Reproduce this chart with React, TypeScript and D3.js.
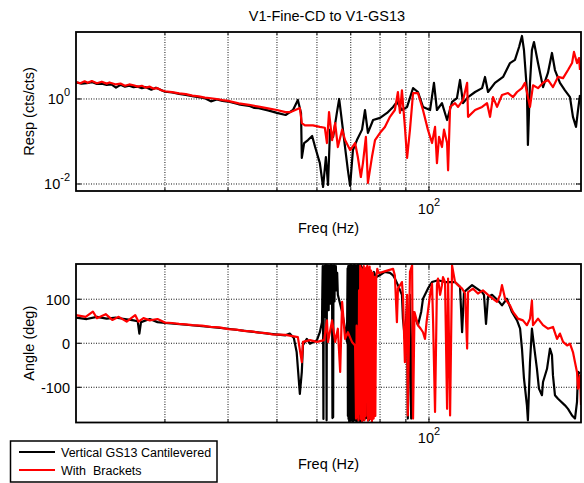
import React, { useEffect, useRef } from 'react';
import * as d3 from 'd3';

const W = 584;
const H = 483;
const FONT = '"Liberation Sans", Arial, sans-serif';

// axis setup
const freqDomain: [number, number] = [20, 200];
const magDomain: [number, number] = [Math.pow(10, -2.165), Math.pow(10, 1.576)];
const phaseDomain: [number, number] = [-180, 180];
const freqMinor = [30, 40, 50, 60, 70, 80, 90];
const freqMajor = [100];
const magTicks = [0.01, 1];
const magTickLabels = [['10', '-2'], ['10', '0']];
const phaseTicks = [-100, 0, 100];
const phaseTickLabels = ['-100', '0', '100'];

const legendLabels = ['Vertical GS13 Cantilevered', 'With  Brackets'];
const seriesColors = ['#000000', '#ff0000'];

// magnitude, cantilevered GS13 (freq Hz, cts/cts)
const magBlack: [number, number][] = [
  [20, 2.45], [20.5, 2.3], [21, 2.35], [21.5, 2.5], [22, 2.25], [22.5, 2.3], [23, 2.15], [23.5, 2.2], [24, 1.85],
  [24.5, 2.15], [25, 1.95], [25.5, 2.05], [26, 1.9], [26.5, 1.95], [27, 1.8], [27.5, 1.9], [28.2, 1.65],
  [28.8, 1.85], [30, 1.48], [31, 1.42], [32, 1.32], [33, 1.25], [34, 1.17], [35, 1.1], [36, 1.04],
  [37, 0.88], [38, 0.97], [39, 0.9], [40, 0.87], [42, 0.75], [44, 0.69], [45, 0.62], [46, 0.61], [48, 0.54],
  [50, 0.47], [52, 0.42],
  [53.8, 0.55], [55.0, 0.95], [55.8, 0.47], [56.0, 0.041], [56.6, 0.092], [57.6, 0.108], [58.7, 0.135],
  [59.5, 0.074], [60.8, 0.031], [61.7, 0.0085], [62.5, 0.043], [63.1, 0.0095], [63.7, 0.19], [64.6, 0.128],
  [65.7, 0.47], [66.4, 1.0], [67.3, 0.27], [68.2, 0.074], [69.1, 0.021], [69.8, 0.009], [70.7, 0.063],
  [72.0, 0.108], [73.7, 0.19], [74.7, 0.55], [75.7, 0.16], [77.5, 0.32], [80, 0.36], [82.6, 0.47],
  [84.9, 0.65], [86.4, 0.85], [88.4, 0.55], [90.5, 0.65], [93.0, 1.8], [95.1, 1.46], [97.3, 0.65],
  [100.5, 0.55], [102.3, 2.4], [103.7, 0.55], [106.1, 0.8], [108.6, 0.32], [111.1, 0.85], [113.6, 1.05],
  [115.2, 2.8], [116.8, 0.8], [119.5, 1.11], [123.4, 1.46], [127.4, 1.8], [129.1, 3.3], [130.9, 1.46],
  [135.1, 2.4], [140.2, 3.3], [144.7, 7.0], [148.0, 8.3], [150.8, 16.7], [152.8, 30.4], [154.2, 14.2],
  [156.3, 1.6], [157.0, 0.083], [158.5, 2.4], [159.9, 14.2], [161.4, 21.9], [164.4, 7.0], [168.2, 1.9],
  [172.0, 4.1], [175.2, 12.1], [177.6, 4.8], [181.7, 2.4], [185.9, 1.6], [190.2, 1.11], [192.8, 0.38],
  [195.5, 0.22], [197.3, 0.55], [199.1, 1.24],
];

// magnitude, with brackets
const magRed: [number, number][] = [
  [20, 2.5], [20.4, 2.35], [20.8, 2.6], [21.1, 2.4], [21.5, 2.65], [22.0, 2.35], [22.5, 2.55], [23.0, 2.3],
  [23.3, 2.45], [24, 2.2], [24.5, 2.3], [25, 2.05], [25.5, 2.2], [26, 2.1], [26.5, 1.95], [27, 2.05],
  [27.5, 1.85], [28, 1.95], [28.5, 1.75], [29, 1.8], [29.5, 1.6], [30, 1.52], [31, 1.45], [32, 1.36],
  [33, 1.3], [34, 1.2], [35, 1.15], [36, 1.08], [37, 1.04], [38, 1.0], [39, 0.94], [40, 0.9],
  [42, 0.79], [44, 0.73], [46, 0.66], [48, 0.6], [50, 0.55], [52, 0.49], [53.1, 0.49], [55.5, 0.61],
  [56.0, 0.27], [56.8, 0.24], [58.9, 0.24], [60.8, 0.22], [62.2, 0.21], [62.8, 0.092], [63.4, 0.49],
  [64.3, 0.108], [65.2, 0.27], [66.0, 0.074], [67.3, 0.19], [68.2, 0.108], [69.8, 0.063], [71.4, 0.092],
  [72.3, 0.043], [73.3, 0.0146], [74.0, 0.031], [75.0, 0.128], [75.7, 0.0106], [77.1, 0.043], [78.2, 0.108],
  [80, 0.16], [81.8, 0.22], [83.7, 0.38], [85.6, 0.55], [86.8, 1.46], [87.6, 0.47], [88.4, 1.6], [89.6, 0.22],
  [90.5, 0.041], [91.7, 0.19], [93.0, 1.38], [95.1, 1.38], [97.3, 0.55], [99.5, 0.19], [101.4, 0.092],
  [102.8, 0.22], [103.7, 0.031], [104.7, 0.128], [106.1, 0.074], [107.1, 0.19], [108.6, 0.092], [109.1, 0.021],
  [110.1, 0.65], [112.6, 0.8], [114.2, 0.65], [116.8, 0.95], [119.0, 2.4], [119.5, 0.38], [123.4, 0.55],
  [127.4, 0.65], [130.3, 0.8], [132.1, 0.38], [133.9, 1.11], [136.4, 0.65], [139.5, 1.24], [143.4, 1.38],
  [146.7, 1.11], [149.4, 1.46], [152.8, 1.8], [154.9, 2.4], [158.5, 0.65], [160.7, 2.1], [164.4, 1.8],
  [168.2, 2.4], [172.0, 2.8], [176.0, 1.9], [180.1, 3.3], [184.3, 3.1], [188.5, 4.8], [192.0, 7.0],
  [193.7, 12.8], [196.4, 7.0], [198.2, 9.2], [199.1, 4.8],
];

// phase, cantilevered GS13 (freq Hz, deg)
const phaseBlack: [number, number][] = [
  [20, 58], [21, 55], [22, 60], [23, 56], [24, 58], [25, 55], [26, 52], [26.5, 50], [26.7, 22], [26.9, 48],
  [28, 55], [29, 48], [30, 46], [33, 42], [36, 38], [40, 33], [44, 27], [48, 22], [52, 18], [53, 22], [54, 12],
  [54.7, -20], [55.5, -115], [56, -65], [56.3, -4], [57.3, 10], [58.1, -1], [60, 7], [60.8, 25], [61.4, 48],
  [61.5, 120], [61.6, 175], [61.7, 60], [61.8, -172], [61.9, 168], [62.0, 70], [62.1, 176], [62.2, 95],
  [62.3, 172], [62.4, 60], [62.5, 178], [62.6, 105], [62.7, -175], [62.8, 174], [62.9, 85], [63.0, 177],
  [63.1, 110], [63.2, 168], [63.3, 75], [63.4, 176], [63.5, 120], [63.6, 172], [63.7, 90], [63.8, 175],
  [63.9, 90], [64.0, 178], [64.1, 100], [64.2, 170], [64.3, 80], [64.4, -170], [64.5, 176], [64.6, -168],
  [64.7, 172], [64.8, 110], [64.9, 177], [65.0, 95], [65.1, 170], [65.2, 130], [65.4, 175], [65.6, 120],
  [65.8, 160], [66.0, 110], [67.3, 71], [68.2, 33], [68.8, 3],
  [69.0, 170], [69.1, -165], [69.2, 175], [69.3, -172], [69.4, 168], [69.5, -178], [69.6, 176], [69.7, -170],
  [69.8, 172], [69.9, -175], [70.0, 178], [70.1, -168], [70.2, 170], [70.3, -176], [70.4, 175], [70.5, -172],
  [70.6, 168], [70.7, -178], [70.8, 176], [70.9, -170], [71.0, 172], [71.1, -175], [71.2, 178], [71.3, -168],
  [71.4, 170], [71.5, -176], [71.6, 175], [71.7, -172], [71.8, 168], [71.9, -178], [72.0, 176], [72.1, -170],
  [72.2, 172], [72.3, -175], [72.4, 178], [72.5, -168], [72.6, 170], [72.7, -176], [72.8, 175], [72.9, -172],
  [73.0, 168], [73.2, -178], [73.4, 176], [73.6, -170], [73.8, 172], [74.0, -175], [74.3, 165], [74.6, -172],
  [74.9, 160], [75.2, -170], [75.6, 165], [76.0, -175], [76.4, 160], [77.2, 150], [77.8, 162], [78.5, 150],
  [80, 155], [81.8, 162], [83.7, 160], [84.9, 154], [85.6, 147], [86.8, 132],
  [88.4, 110], [88.8, 56], [89.6, 10], [90.5, 87], [90.8, -171], [91.7, 110], [92.2, -171], [93.0, 71],
  [95.1, 41], [96.5, 71], [97.3, 101], [99.5, 124], [100.5, 132], [101.4, 139], [104.2, 143], [107.6, 139],
  [112.6, 139], [115.2, 128], [116.3, 25], [117.3, 116], [119.5, 124], [121.7, 132], [124.5, 124], [127.4, 116],
  [128.5, 110], [129.7, 44], [130.9, 105], [133.3, 110], [137.0, 97], [139.5, 86], [142.7, 101], [146.0, 71],
  [149.4, 52], [151.5, 33], [152.8, -12], [154.2, -80], [156.3, -141], [157.0, -175], [158.5, -43], [159.9, 33],
  [161.4, -5], [163.6, -58], [165.1, -103], [167.4, -118], [168.2, -88], [171.3, -58], [173.6, -12], [175.2, -27],
  [176.0, -73], [177.6, -118], [180.1, -126], [185.9, -141], [188.5, -149], [192.0, -164], [194.6, -171],
  [196.4, -133], [197.3, -65], [199.1, -69],
];

// phase, with brackets
const phaseRed: [number, number][] = [
  [20, 64], [20.9, 60], [21.6, 72], [22.0, 57], [22.9, 66], [23.6, 53], [24.3, 60], [25.2, 49], [26.2, 64],
  [26.6, 49], [27.2, 57], [28, 52], [29, 55], [30, 47], [31, 46], [32, 44], [33, 43], [34, 41], [35.5, 40],
  [37, 37], [38.5, 36], [40, 32], [41.5, 31], [43, 28], [44.5, 27], [46, 24], [47.5, 23], [49, 20], [52, 19],
  [55, 14], [56.0, -43], [56.3, 3], [58.1, 7], [60, 3], [62, 7], [62.8, 52],
  [63.1, 3], [64.3, 52], [65.2, 3], [66.0, 33], [66.7, -65], [67.3, 94], [68.2, 10], [69.1, 25], [70.4, 3],
  [71.4, -5], [71.7, -171], [71.9, 40], [72.1, -168], [72.3, 10], [72.5, -175], [72.7, 120], [72.9, -160],
  [73.1, 177], [73.3, -172], [73.5, 170], [73.7, -178], [73.9, 165], [74.1, -170], [74.3, 175], [74.5, -175],
  [74.7, 168], [74.9, -165], [75.1, 172], [75.3, -133], [75.5, 176], [75.7, -176], [75.9, 170], [76.1, -170],
  [76.3, 174], [76.5, -172], [76.8, 165], [77.1, -178], [77.4, 160], [77.7, -171], [78.0, 150], [78.3, -165],
  [78.6, 147], [79.0, 169], [79.5, 160], [80.0, 160], [82.6, 165], [84.9, 169], [85.6, 154], [86.4, 48],
  [86.8, 124], [88.4, 139], [88.8, 110], [89.6, -43], [90.5, 110], [90.8, -164], [91.7, 162], [92.6, 177],
  [93.0, -171], [93.6, 71], [95.1, 41], [96.3, 33], [97.3, 25], [98.2, 10], [98.9, 48], [100.5, 110],
  [101.4, 135], [101.9, 48], [102.8, -156], [103.7, 132], [104.2, 147], [105.2, 110], [106.1, 132],
  [106.6, 150], [107.6, 139], [108.6, -149], [109.1, 147], [110.1, -164], [111.1, 177], [112.6, 139],
  [114.2, 132], [116.3, 124], [117.9, 113], [119.0, -12], [119.5, 116], [122.2, 124], [125.0, 113],
  [127.9, 120], [130.9, 110], [133.9, 101], [136.4, 94], [138.3, 110], [139.5, 132], [141.5, 101],
  [144.7, 86], [146.7, 71], [150.1, 56], [153.5, 52], [156.3, 41], [158.5, 56], [159.9, 97], [160.7, 41],
  [164.4, 56], [168.2, 41], [172.0, 33], [176.0, 37], [179.3, 10], [181.7, 22], [184.3, 3], [187.7, -5],
  [190.2, -1], [192.8, -20], [194.6, -43], [196.4, -66], [197.3, -103], [199.1, -73], [200, -140],
];

export default function App() {
  const svgRef = useRef<SVGSVGElement>(null);

  useEffect(() => {
    const svg = d3.select(svgRef.current);
    svg.selectAll('*').remove();
    svg.append('rect').attr('width', W).attr('height', H).attr('fill', '#fff');
    const defs = svg.append('defs');

    const x = d3.scaleLog().domain(freqDomain).range([76, 581]);

    const panel = (
      id: string,
      y: any,
      yTicks: number[],
      tickLabel: (g: any, i: number) => void,
      series: [number, number][][],
      yLabel: string,
      xLabelY: number,
      xTickY: number,
    ) => {
      const [y0, y1] = y.range();
      const x0 = 76, x1 = 581;
      const g = svg.append('g');

      defs.append('clipPath').attr('id', id)
        .append('rect').attr('x', x0).attr('y', y1).attr('width', x1 - x0).attr('height', y0 - y1);

      // grid
      const grid = g.append('g').attr('stroke', '#111').attr('stroke-width', 1).attr('stroke-dasharray', '1,1.5');
      grid.selectAll('.vx').data([...freqMinor, ...freqMajor]).enter().append('line')
        .attr('x1', (d: number) => x(d)).attr('x2', (d: number) => x(d)).attr('y1', y1).attr('y2', y0);
      grid.selectAll('.hy').data(yTicks).enter().append('line')
        .attr('y1', (d: number) => y(d)).attr('y2', (d: number) => y(d)).attr('x1', x0).attr('x2', x1);

      // ticks, inward on all sides
      const tk = g.append('g').attr('stroke', '#000').attr('stroke-width', 1);
      const xt = [...freqMinor.map((v) => [v, 3]), ...freqMajor.map((v) => [v, 5])];
      xt.forEach(([v, len]) => {
        tk.append('line').attr('x1', x(v)).attr('x2', x(v)).attr('y1', y0).attr('y2', y0 - len);
        tk.append('line').attr('x1', x(v)).attr('x2', x(v)).attr('y1', y1).attr('y2', y1 + len);
      });
      yTicks.forEach((v) => {
        tk.append('line').attr('x1', x0).attr('x2', x0 + 5).attr('y1', y(v)).attr('y2', y(v));
        tk.append('line').attr('x1', x1).attr('x2', x1 - 5).attr('y1', y(v)).attr('y2', y(v));
      });

      // data
      const line = d3.line<[number, number]>().x((d) => x(d[0])).y((d) => y(d[1]));
      const lg = g.append('g').attr('clip-path', `url(#${id})`);
      series.forEach((s, i) => {
        lg.append('path').attr('d', line(s)).attr('fill', 'none')
          .attr('stroke', seriesColors[i]).attr('stroke-width', 2.2).attr('stroke-linejoin', 'round');
      });

      // box
      g.append('rect').attr('x', x0).attr('y', y1).attr('width', x1 - x0).attr('height', y0 - y1)
        .attr('fill', 'none').attr('stroke', '#000').attr('stroke-width', 1.8);

      // y tick labels
      yTicks.forEach((v, i) => {
        const t = g.append('text').attr('x', 70).attr('y', y(v) + 5.5)
          .attr('text-anchor', 'end').attr('font-family', FONT).attr('font-size', 14.5);
        tickLabel(t, i);
      });

      // x tick label 10^2
      const xl = g.append('text').attr('x', x(100)).attr('y', xTickY)
        .attr('text-anchor', 'middle').attr('font-family', FONT).attr('font-size', 14.5);
      xl.append('tspan').text('10');
      xl.append('tspan').attr('dy', -8).attr('font-size', 11).text('2');

      g.append('text').attr('x', 328.5).attr('y', xLabelY).attr('text-anchor', 'middle')
        .attr('font-family', FONT).attr('font-size', 14.5).text('Freq (Hz)');

      g.append('text').attr('transform', `translate(34,${(y0 + y1) / 2}) rotate(-90)`)
        .attr('text-anchor', 'middle').attr('font-family', FONT).attr('font-size', 14.5).text(yLabel);
    };

    const yMag = d3.scaleLog().domain(magDomain).range([191, 32]);
    panel('clipMag', yMag, magTicks, (t, i) => {
      t.append('tspan').text(magTickLabels[i][0]);
      t.append('tspan').attr('dy', -8).attr('font-size', 11).text(magTickLabels[i][1]);
    }, [magBlack, magRed], 'Resp (cts/cts)', 233, 213.5);

    const yPh = d3.scaleLinear().domain(phaseDomain).range([422.5, 264]);
    panel('clipPh', yPh, phaseTicks, (t, i) => {
      t.text(phaseTickLabels[i]);
    }, [phaseBlack, phaseRed], 'Angle (deg)', 468.5, 443);

    svg.append('text').attr('x', 327).attr('y', 21).attr('text-anchor', 'middle')
      .attr('font-family', FONT).attr('font-size', 14.5).text('V1-Fine-CD to V1-GS13');

    // legend
    const lg = svg.append('g');
    lg.append('rect').attr('x', 10.5).attr('y', 441).attr('width', 206.5).attr('height', 41)
      .attr('fill', '#fff').attr('stroke', '#000').attr('stroke-width', 1.5);
    legendLabels.forEach((lab, i) => {
      const ly = 452 + i * 18;
      lg.append('line').attr('x1', 19).attr('x2', 55).attr('y1', ly).attr('y2', ly)
        .attr('stroke', seriesColors[i]).attr('stroke-width', 2.2);
      lg.append('text').attr('x', 61).attr('y', ly + 4.5).attr('font-family', FONT).attr('font-size', 12.5)
        .style('white-space', 'pre').text(lab);
    });
  }, []);

  return <svg ref={svgRef} width={W} height={H} style={{ position: 'absolute', left: 0, top: 0 }} />;
}
